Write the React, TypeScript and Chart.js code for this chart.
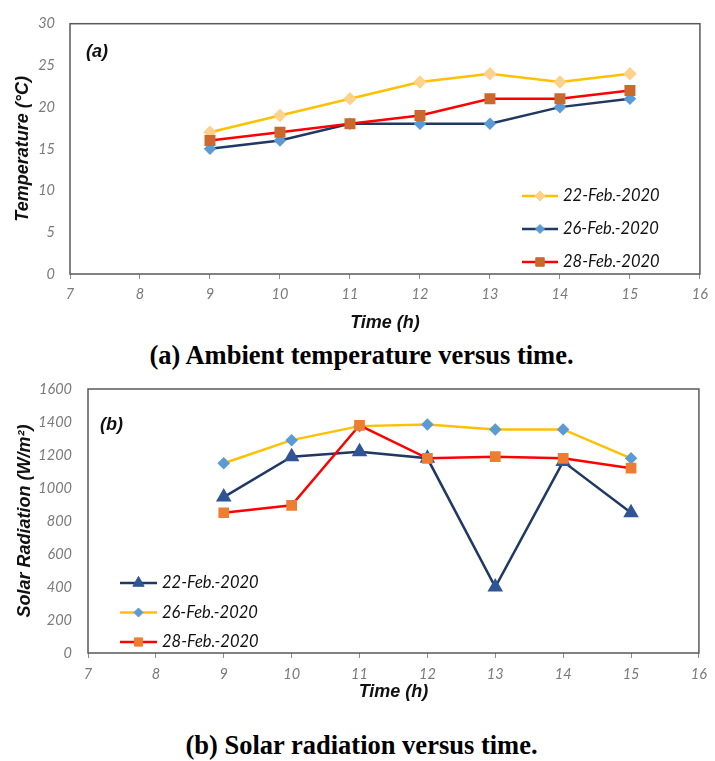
import React, { useEffect, useRef } from 'react';
import { Chart, registerables } from 'chart.js';

Chart.register(...registerables);

// ---------- data ----------
const hours = [9, 10, 11, 12, 13, 14, 15];
const seriesNamesA = ['22-Feb.-2020', '26-Feb.-2020', '28-Feb.-2020'];
const temp22 = [17, 19, 21, 23, 24, 23, 24];
const temp26 = [15, 16, 18, 18, 18, 20, 21];
const temp28 = [16, 17, 18, 19, 21, 21, 22];

const seriesNamesB = ['22-Feb.-2020', '26-Feb.-2020', '28-Feb.-2020'];
const rad22 = [945, 1190, 1220, 1180, 400, 1160, 850];
const rad26 = [1150, 1290, 1375, 1385, 1355, 1355, 1180];
const rad28 = [850, 895, 1380, 1180, 1190, 1180, 1120];

const xMin = 7;
const xMax = 16;
const tempMax = 30;
const tempStep = 5;
const radMax = 1600;
const radStep = 200;

const captionA = '(a) Ambient temperature versus time.';
const captionB = '(b) Solar radiation versus time.';
const xTitle = 'Time (h)';
const yTitleA = 'Temperature (°C)';
const yTitleB = 'Solar Radiation (W/m²)';

// ---------- helpers ----------
const toPts = (ys: number[]) => hours.map((h, i) => ({ x: h, y: ys[i] }));

function drawMarker(ctx: CanvasRenderingContext2D, style: string, x: number, y: number, r: number, color: string) {
  ctx.save();
  ctx.fillStyle = color;
  ctx.strokeStyle = color;
  ctx.lineWidth = 1;
  ctx.beginPath();
  if (style === 'rectRot') {
    ctx.moveTo(x - r, y);
    ctx.lineTo(x, y - r);
    ctx.lineTo(x + r, y);
    ctx.lineTo(x, y + r);
    ctx.closePath();
  } else if (style === 'rect') {
    const s = Math.SQRT1_2 * r;
    ctx.rect(x - s, y - s, 2 * s, 2 * s);
  } else if (style === 'triangle') {
    const a = (2 * Math.PI) / 3;
    ctx.moveTo(x, y - r);
    ctx.lineTo(x + Math.sin(a) * r, y - Math.cos(a) * r);
    ctx.lineTo(x + Math.sin(2 * a) * r, y - Math.cos(2 * a) * r);
    ctx.closePath();
  }
  ctx.fill();
  ctx.stroke();
  ctx.restore();
}

const framePlugin = {
  id: 'frame',
  beforeDatasetsDraw(chart: any) {
    const { ctx, chartArea: a } = chart;
    ctx.save();
    ctx.strokeStyle = '#595959';
    ctx.lineWidth = 1.5;
    ctx.strokeRect(a.left, a.top, a.right - a.left, a.bottom - a.top);
    ctx.restore();
  },
  afterDraw(chart: any, _args: any, opts: any) {
    const { ctx } = chart;
    ctx.save();
    // panel label
    ctx.font = 'italic bold 18px "Liberation Sans"';
    ctx.fillStyle = '#111';
    ctx.textAlign = 'left';
    ctx.textBaseline = 'middle';
    ctx.fillText(opts.panel, opts.panelX, opts.panelY);
    // legend
    const order: number[] = opts.legendOrder;
    order.forEach((di: number, row: number) => {
      const ds = chart.data.datasets[di];
      const y = opts.legendY + row * opts.legendGap;
      ctx.strokeStyle = ds.borderColor;
      ctx.lineWidth = ds.borderWidth;
      ctx.beginPath();
      ctx.moveTo(opts.legendX, y);
      ctx.lineTo(opts.legendX + opts.lineLen, y);
      ctx.stroke();
      drawMarker(ctx, ds.pointStyle, opts.legendX + opts.lineLen / 2, y, ds.pointRadius, ds.pointBackgroundColor);
      ctx.font = 'italic 16.5px Lato';
      ctx.fillStyle = '#111';
      ctx.textAlign = 'left';
      ctx.textBaseline = 'middle';
      ctx.fillText(ds.label, opts.legendX + opts.lineLen + 5, y);
    });
    ctx.restore();
  },
};

const tickFont = { family: 'Lato', style: 'italic' as const, size: 14.5 };
const titleFont = { family: '"Liberation Sans", Arial, sans-serif', style: 'italic' as const, weight: 'bold' as const, size: 18 };

function makeConfig(p: {
  datasets: any[];
  yMax: number;
  yStep: number;
  yTitle: string;
  padTop: number;
  padRight: number;
  yWidth: number;
  xHeight: number;
  yTickPad: number;
  xTickPad: number;
  yTitlePad: number;
  xTitlePad: number;
  plugin: any;
}): any {
  return {
    type: 'line',
    data: { datasets: p.datasets },
    plugins: [framePlugin],
    options: {
      responsive: false,
      animation: false,
      devicePixelRatio: 1,
      layout: { padding: { top: p.padTop, right: p.padRight, left: 0, bottom: 0 } },
      plugins: {
        legend: { display: false },
        tooltip: { enabled: false },
        frame: p.plugin,
      },
      scales: {
        x: {
          type: 'linear',
          min: xMin,
          max: xMax,
          border: { display: false },
          grid: { drawOnChartArea: false, drawTicks: true, tickLength: 5, color: '#8c8c8c' },
          ticks: { stepSize: 1, font: tickFont, color: '#7a7a7a', padding: p.xTickPad, maxRotation: 0, callback: (v: any) => String(v) },
          title: { display: true, text: xTitle, font: titleFont, color: '#111', padding: { top: 0, bottom: p.xTitlePad } },
          afterFit: (s: any) => { s.height = p.xHeight; },
        },
        y: {
          min: 0,
          max: p.yMax,
          border: { display: false },
          grid: { display: false, drawTicks: false },
          ticks: { stepSize: p.yStep, font: tickFont, color: '#7a7a7a', padding: p.yTickPad, callback: (v: any) => String(v) },
          title: { display: true, text: p.yTitle, font: titleFont, color: '#111', padding: { top: p.yTitlePad, bottom: 0 } },
          afterFit: (s: any) => { s.width = p.yWidth; },
        },
      },
    },
  };
}

export default function App() {
  const refA = useRef<HTMLCanvasElement>(null);
  const refB = useRef<HTMLCanvasElement>(null);

  useEffect(() => {
    const dsA = [
      {
        label: seriesNamesA[0], data: toPts(temp22), borderColor: '#FFC000', borderWidth: 2.5,
        pointStyle: 'rectRot', pointRadius: 5, pointBackgroundColor: '#FFD28C', pointBorderColor: '#FFD28C', order: 2,
      },
      {
        label: seriesNamesA[1], data: toPts(temp26), borderColor: '#1F3864', borderWidth: 2.5,
        pointStyle: 'rectRot', pointRadius: 4.5, pointBackgroundColor: '#5B9BD5', pointBorderColor: '#5B9BD5', order: 1,
      },
      {
        label: seriesNamesA[2], data: toPts(temp28), borderColor: '#FF0000', borderWidth: 2.5,
        pointStyle: 'rect', pointRadius: 6, pointBackgroundColor: '#C9692D', pointBorderColor: '#C9692D', order: 0,
      },
    ];
    const dsB = [
      {
        label: seriesNamesB[0], data: toPts(rad22), borderColor: '#1F3864', borderWidth: 2.5,
        pointStyle: 'triangle', pointRadius: 6.5, pointBackgroundColor: '#2F5597', pointBorderColor: '#2F5597', order: 2,
      },
      {
        label: seriesNamesB[1], data: toPts(rad26), borderColor: '#FFC000', borderWidth: 2.5,
        pointStyle: 'rectRot', pointRadius: 4.5, pointBackgroundColor: '#5B9BD5', pointBorderColor: '#5B9BD5', order: 1,
      },
      {
        label: seriesNamesB[2], data: toPts(rad28), borderColor: '#FF0000', borderWidth: 2.5,
        pointStyle: 'rect', pointRadius: 5.8, pointBackgroundColor: '#ED7D31', pointBorderColor: '#ED7D31', order: 0,
      },
    ];

    const chartA = new Chart(refA.current!, makeConfig({
      datasets: dsA, yMax: tempMax, yStep: tempStep, yTitle: yTitleA,
      padTop: 13, padRight: 10, yWidth: 70, xHeight: 66,
      yTickPad: 15, xTickPad: 7, yTitlePad: 12, xTitlePad: 6,
      plugin: { panel: '(a)', panelX: 86, panelY: 52, legendX: 522, legendY: 196, legendGap: 33, lineLen: 36, legendOrder: [0, 1, 2] },
    }));
    const chartB = new Chart(refB.current!, makeConfig({
      datasets: dsB, yMax: radMax, yStep: radStep, yTitle: yTitleB,
      padTop: 29, padRight: 8, yWidth: 88, xHeight: 62,
      yTickPad: 16, xTickPad: 8, yTitlePad: 14, xTitlePad: 12,
      plugin: { panel: '(b)', panelX: 100, panelY: 65, legendX: 120, legendY: 223, legendGap: 29.5, lineLen: 37, legendOrder: [0, 1, 2] },
    }));
    return () => {
      chartA.destroy();
      chartB.destroy();
    };
  }, []);

  const captionStyle: React.CSSProperties = {
    position: 'absolute',
    left: 0,
    width: 723,
    textAlign: 'center',
    fontFamily: '"Liberation Serif", "Times New Roman", serif',
    fontWeight: 'bold',
    fontSize: 26.5,
    lineHeight: '30px',
    color: '#000',
    whiteSpace: 'nowrap',
  };

  return (
    <div style={{ position: 'absolute', left: 0, top: 0, width: 715, height: 761, background: '#fff', overflow: 'hidden' }}>
      <canvas ref={refA} width={715} height={340} style={{ position: 'absolute', left: 0, top: 0 }} />
      <div style={{ ...captionStyle, top: 340 }}>{captionA}</div>
      <canvas ref={refB} width={715} height={355} style={{ position: 'absolute', left: 0, top: 360 }} />
      <div style={{ ...captionStyle, top: 730 }}>{captionB}</div>
    </div>
  );
}
